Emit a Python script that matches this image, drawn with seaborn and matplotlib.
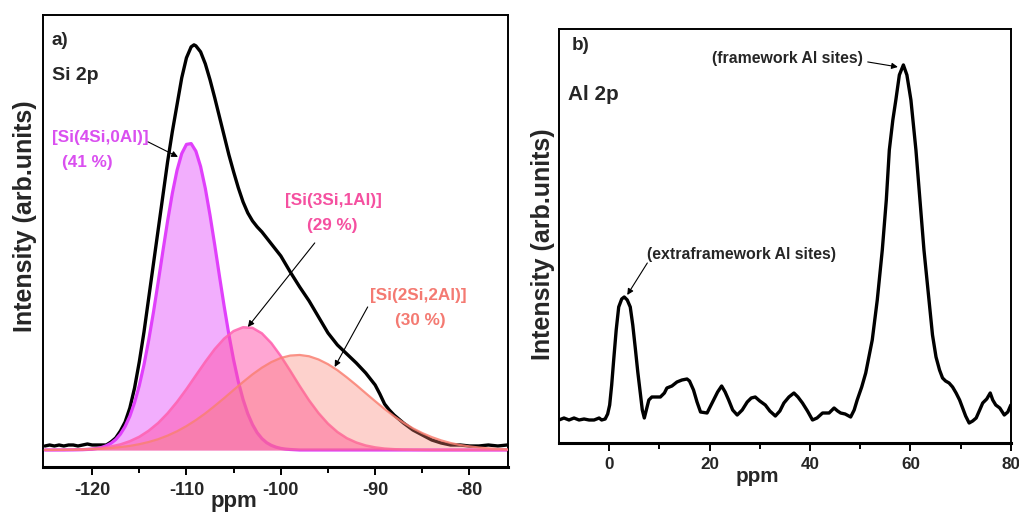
import matplotlib
matplotlib.use("Agg")
import matplotlib.pyplot as plt
from matplotlib import font_manager as fm
import seaborn as sns

# ---------------- Si 2p (29Si) spectrum and its deconvolution ----------------
si_ppm = [-125.0, -124.5, -124.0, -123.5, -123.0, -122.5, -122.0, -121.5, -121.0, -120.5,
          -120.0, -119.5, -119.0, -118.5, -118.0, -117.5, -117.0, -116.5, -116.0, -115.5,
          -115.0, -114.5, -114.0, -113.5, -113.0, -112.5, -112.0, -111.5, -111.0, -110.5,
          -110.0, -109.5, -109.2, -109.0, -108.5, -108.0, -107.5, -107.0, -106.5, -106.0,
          -105.5, -105.0, -104.5, -104.0, -103.5, -103.0, -102.5, -102.0, -101.5, -101.0,
          -100.0, -99.0, -98.0, -97.0, -96.0, -95.0, -94.0, -93.0, -92.0, -91.0,
          -90.0, -89.5, -89.0, -88.5, -88.0, -87.0, -86.0, -85.0, -84.0, -83.0,
          -82.0, -81.0, -80.0, -79.0, -78.0, -77.0, -76.0]
si_int = [0.04, 0.05, 0.04, 0.05, 0.04, 0.05, 0.05, 0.04, 0.05, 0.06,
          0.05, 0.05, 0.05, 0.05, 0.08, 0.12, 0.19, 0.28, 0.42, 0.62,
          0.88, 1.18, 1.52, 1.86, 2.20, 2.54, 2.88, 3.18, 3.45, 3.72,
          3.92, 4.03, 4.05, 4.04, 3.98, 3.86, 3.70, 3.52, 3.33, 3.14,
          2.95, 2.78, 2.62, 2.48, 2.37, 2.29, 2.23, 2.18, 2.12, 2.06,
          1.94, 1.78, 1.63, 1.49, 1.33, 1.17, 1.05, 0.96, 0.87, 0.77,
          0.65, 0.56, 0.46, 0.40, 0.35, 0.27, 0.20, 0.15, 0.10, 0.07,
          0.05, 0.05, 0.04, 0.04, 0.05, 0.04, 0.05]

q4_ppm = [-125.0, -124.0, -123.0, -122.0, -121.0, -120.0, -119.5, -119.0, -118.5, -118.0,
          -117.5, -117.0, -116.5, -116.0, -115.5, -115.0, -114.5, -114.0, -113.5, -113.0,
          -112.5, -112.0, -111.5, -111.0, -110.5, -110.0, -109.5, -109.0, -108.5, -108.0,
          -107.5, -107.0, -106.5, -106.0, -105.5, -105.0, -104.5, -104.0, -103.5, -103.0,
          -102.5, -102.0, -101.5, -101.0, -100.5, -100.0, -99.5, -99.0, -98.0, -97.0,
          -96.0, -95.0, -94.0, -93.0, -92.0, -91.0, -90.0, -89.0, -88.0, -87.0,
          -86.0, -85.0, -84.0, -83.0, -82.0, -81.0, -80.0, -79.0, -78.0, -77.0, -76.0]
q4_int = [0.0, 0.0, 0.0, 0.001, 0.003, 0.008, 0.015, 0.025, 0.042, 0.067,
          0.104, 0.159, 0.235, 0.338, 0.474, 0.644, 0.853, 1.099, 1.376, 1.676,
          1.986, 2.288, 2.564, 2.795, 2.963, 3.055, 3.063, 2.987, 2.834, 2.615,
          2.346, 2.048, 1.738, 1.435, 1.152, 0.900, 0.683, 0.505, 0.363, 0.254,
          0.172, 0.114, 0.073, 0.046, 0.028, 0.016, 0.009, 0.005, 0.0, 0.0,
          0.0, 0.0, 0.0, 0.0, 0.0, 0.0, 0.0, 0.0, 0.0, 0.0,
          0.0, 0.0, 0.0, 0.0, 0.0, 0.0, 0.0, 0.0, 0.0, 0.0, 0.0]

comp_ppm = [-125, -124, -123, -122, -121, -120, -119, -118, -117, -116,
            -115, -114, -113, -112, -111, -110, -109, -108, -107, -106,
            -105, -104, -103, -102, -101, -100, -99, -98, -97, -96,
            -95, -94, -93, -92, -91, -90, -89, -88, -87, -86,
            -85, -84, -83, -82, -81, -80, -79, -78, -77, -76]
q3_int = [0.000, 0.001, 0.002, 0.004, 0.007, 0.012, 0.021, 0.035, 0.056, 0.088,
          0.132, 0.193, 0.270, 0.367, 0.481, 0.609, 0.746, 0.882, 1.009, 1.114,
          1.189, 1.227, 1.221, 1.166, 1.068, 0.939, 0.792, 0.640, 0.496, 0.369,
          0.263, 0.180, 0.118, 0.075, 0.045, 0.026, 0.014, 0.008, 0.004, 0.002,
          0.001, 0.0, 0.0, 0.0, 0.0, 0.0, 0.0, 0.0, 0.0, 0.0]
q2_int = [0.001, 0.001, 0.002, 0.003, 0.005, 0.009, 0.013, 0.019, 0.029, 0.041,
          0.058, 0.080, 0.108, 0.144, 0.187, 0.239, 0.299, 0.366, 0.441, 0.519,
          0.600, 0.680, 0.756, 0.823, 0.879, 0.920, 0.944, 0.950, 0.937, 0.905,
          0.858, 0.798, 0.726, 0.649, 0.568, 0.488, 0.410, 0.338, 0.274, 0.217,
          0.169, 0.129, 0.096, 0.070, 0.050, 0.036, 0.025, 0.017, 0.011, 0.007]

si_labels = ["[Si(4Si,0Al)]", "[Si(3Si,1Al)]", "[Si(2Si,2Al)]"]
si_shares = ["(41 %)", "(29 %)", "(30 %)"]
si_ticks = [-120, -110, -100, -90, -80]

# ---------------- Al 2p (27Al) spectrum ----------------
al_ppm = [-10.0, -9.0, -8.0, -7.0, -6.0, -5.0, -4.0, -3.0, -2.0, -1.5,
          -0.8, -0.3, 0.1, 0.5, 0.9, 1.4, 1.9, 2.5, 3.0, 3.6,
          4.2, 4.7, 5.2, 5.7, 6.2, 6.6, 7.0, 7.4, 7.9, 8.5,
          9.3, 10.2, 11.0, 11.5, 12.5, 13.5, 14.5, 15.5, 16.0, 16.8,
          17.5, 18.2, 19.5, 20.2, 20.8, 21.6, 22.4, 23.1, 23.8, 24.6,
          25.5, 26.5, 27.5, 28.3, 29.1, 30.0, 31.1, 32.0, 33.1, 34.0,
          34.8, 35.8, 36.8, 37.6, 38.5, 39.5, 40.5, 41.4, 42.5, 43.8,
          44.8, 45.5, 46.1, 47.0, 48.1, 48.8, 49.4, 50.3, 51.1, 52.4,
          53.4, 54.4, 55.2, 55.8, 56.5, 57.1, 57.8, 58.6, 59.3, 60.1,
          60.6, 61.1, 61.9, 62.7, 63.7, 64.4, 65.1, 65.8, 66.4, 67.0,
          67.7, 68.4, 69.1, 69.8, 70.4, 71.0, 71.7, 72.4, 73.1, 73.8,
          74.4, 75.2, 75.9, 76.4, 77.0, 77.8, 78.7, 79.4, 80.0]
al_int = [0.00, 0.02, 0.00, 0.02, 0.00, 0.01, 0.00, 0.00, 0.02, 0.00,
          0.01, 0.06, 0.15, 0.35, 0.60, 0.90, 1.13, 1.21, 1.23, 1.20,
          1.13, 0.95, 0.72, 0.48, 0.27, 0.10, 0.02, 0.10, 0.20, 0.23,
          0.23, 0.23, 0.27, 0.32, 0.34, 0.38, 0.40, 0.41, 0.39, 0.30,
          0.18, 0.08, 0.07, 0.14, 0.20, 0.28, 0.34, 0.28, 0.20, 0.10,
          0.05, 0.10, 0.18, 0.22, 0.23, 0.19, 0.15, 0.09, 0.04, 0.09,
          0.17, 0.23, 0.27, 0.23, 0.17, 0.09, 0.00, 0.02, 0.07, 0.07,
          0.12, 0.09, 0.07, 0.06, 0.03, 0.10, 0.20, 0.33, 0.47, 0.80,
          1.20, 1.70, 2.20, 2.70, 3.00, 3.20, 3.45, 3.55, 3.45, 3.20,
          2.95, 2.70, 2.20, 1.70, 1.20, 0.85, 0.63, 0.50, 0.42, 0.39,
          0.37, 0.33, 0.27, 0.20, 0.12, 0.04, -0.03, -0.01, 0.02, 0.10,
          0.17, 0.21, 0.27, 0.20, 0.15, 0.12, 0.05, 0.08, 0.15]
al_ticks = [0, 20, 40, 60, 80]
al_labels = ["(framework Al sites)", "(extraframework Al sites)"]

# ---------------- styling ----------------
sns.set_style("white")
installed = {f.name for f in fm.fontManager.ttflist}
HAS_NARROW = "Liberation Sans Narrow" in installed
NARROW = "Liberation Sans Narrow" if HAS_NARROW else "Liberation Sans"
# narrow annotation text: shrink the regular face when no condensed face exists
NS = 1.0 if HAS_NARROW else 0.85
plt.rcParams["font.family"] = ["Liberation Sans", "DejaVu Sans"]
plt.rcParams["font.weight"] = "bold"

MAG_LINE, MAG_TEXT = "#E040FB", "#DA4FF0"
PINK_LINE, PINK_TEXT = "#FF5FAE", "#F550A0"
SAL_LINE, SAL_TEXT = "#FA8072", "#F47A72"

fig = plt.figure(figsize=(10.2, 5.15), dpi=100)
ax1 = fig.add_axes([0.0422, 0.0932, 0.456, 0.878])
ax2 = fig.add_axes([0.548, 0.1398, 0.443, 0.804])


def frame(ax):
    for side in ("top", "left", "right"):
        ax.spines[side].set_linewidth(1.4)
        ax.spines[side].set_color("black")
    ax.spines["bottom"].set_linewidth(2.2)
    ax.spines["bottom"].set_color("black")
    ax.set_yticks([])
    ax.tick_params(axis="x", which="major", direction="out", length=6, width=1.4,
                   bottom=True, top=False, color="black")
    ax.tick_params(axis="x", which="minor", direction="out", length=4, width=1.4,
                   bottom=True, top=False, color="black")


# ---- panel a ----
sns.lineplot(x=si_ppm, y=si_int, ax=ax1, color="black", linewidth=2.4,
             estimator=None, zorder=1)

ax1.fill_between(q4_ppm, q4_int, 0, color=MAG_LINE, alpha=0.42, linewidth=0, zorder=2)
sns.lineplot(x=q4_ppm, y=q4_int, ax=ax1, color=MAG_LINE, linewidth=2.3,
             estimator=None, zorder=2.1)
ax1.fill_between(comp_ppm, q3_int, 0, color="#FF4FA8", alpha=0.5, linewidth=0, zorder=3)
sns.lineplot(x=comp_ppm, y=q3_int, ax=ax1, color=PINK_LINE, linewidth=1.8,
             estimator=None, zorder=3.1, alpha=0.85)
ax1.fill_between(comp_ppm, q2_int, 0, color=SAL_LINE, alpha=0.36, linewidth=0, zorder=4)
sns.lineplot(x=comp_ppm, y=q2_int, ax=ax1, color=SAL_LINE, linewidth=1.6,
             estimator=None, zorder=4.1, alpha=0.85)

ax1.set_xlim(-125.2, -75.9)
ax1.set_ylim(-0.17, 4.35)
ax1.set_xticks(si_ticks)
ax1.set_xticks([-115, -105, -95, -85], minor=True)
ax1.set_xticklabels([str(t) for t in si_ticks], fontsize=13, fontweight="bold")
frame(ax1)
ax1.tick_params(axis="x", pad=5)

ax1.set_xlabel("ppm", fontsize=16, fontweight="bold")
ax1.xaxis.set_label_coords(0.411, -0.052)
ax1.set_ylabel("Intensity (arb.units)", fontsize=18, fontweight="bold")
ax1.yaxis.set_label_coords(-0.012, 0.555)

ax1.text(0.019, 0.962, "a)", transform=ax1.transAxes, fontsize=16 * NS,
         fontweight="bold", family=NARROW, va="top", ha="left")
ax1.text(0.019, 0.885, "Si 2p", transform=ax1.transAxes, fontsize=16.5 * NS,
         fontweight="bold", family=NARROW, va="top", ha="left")

label_pos = [((-119.15, 3.12), (-120.5, 2.87)),
             ((-94.39, 2.49), (-94.5, 2.24)),
             ((-85.40, 1.54), (-85.19, 1.29))]
arrows = [((-114.07, 3.08), (-110.9, 2.93)),
          ((-96.4, 2.07), (-103.49, 1.23)),
          ((-90.79, 1.43), (-94.29, 0.83))]
text_cols = [MAG_TEXT, PINK_TEXT, SAL_TEXT]
for name, share, (p1, p2), (tail, head), col in zip(si_labels, si_shares, label_pos,
                                                   arrows, text_cols):
    ax1.text(*p1, name, color=col, fontsize=14.5 * NS, fontweight="bold", family=NARROW,
             ha="center", va="center", zorder=6)
    ax1.text(*p2, share, color=col, fontsize=14.5 * NS, fontweight="bold", family=NARROW,
             ha="center", va="center", zorder=6)
    ax1.annotate("", xy=head, xytext=tail, zorder=6,
                 arrowprops=dict(arrowstyle="-|>", color="black", lw=0.8,
                                 mutation_scale=9, shrinkA=0, shrinkB=0))

# ---- panel b ----
sns.lineplot(x=al_ppm, y=al_int, ax=ax2, color="black", linewidth=2.4, estimator=None)
ax2.set_xlim(-10, 80)
ax2.set_ylim(-0.23, 3.91)
ax2.set_xticks(al_ticks)
ax2.set_xticks([10, 30, 50, 70], minor=True)
ax2.set_xticklabels([str(t) for t in al_ticks], fontsize=14.5 * NS, fontweight="bold",
                    family=NARROW)
frame(ax2)
ax2.tick_params(axis="x", pad=4)

ax2.set_xlabel("ppm", fontsize=17.5 * NS, fontweight="bold", family=NARROW)
ax2.xaxis.set_label_coords(0.438, -0.058)
ax2.set_ylabel("Intensity (arb.units)", fontsize=18, fontweight="bold")
ax2.yaxis.set_label_coords(-0.008, 0.481)

ax2.text(0.029, 0.981, "b)", transform=ax2.transAxes, fontsize=16 * NS,
         fontweight="bold", family=NARROW, va="top", ha="left")
ax2.text(0.020, 0.865, "Al 2p", transform=ax2.transAxes, fontsize=17.5 * NS,
         fontweight="bold", family=NARROW, va="top", ha="left")

ax2.text(35.5, 3.61, al_labels[0], fontsize=13.5 * NS, fontweight="bold", family=NARROW,
         ha="center", va="center")
ax2.annotate("", xy=(57.5, 3.53), xytext=(51.5, 3.58),
             arrowprops=dict(arrowstyle="-|>", color="black", lw=0.8,
                             mutation_scale=9, shrinkA=0, shrinkB=0))
ax2.text(26.3, 1.65, al_labels[1], fontsize=13.5 * NS, fontweight="bold", family=NARROW,
         ha="center", va="center")
ax2.annotate("", xy=(3.6, 1.25), xytext=(7.6, 1.57),
             arrowprops=dict(arrowstyle="-|>", color="black", lw=0.8,
                             mutation_scale=9, shrinkA=0, shrinkB=0))

fig.savefig("out.png", dpi=100)
